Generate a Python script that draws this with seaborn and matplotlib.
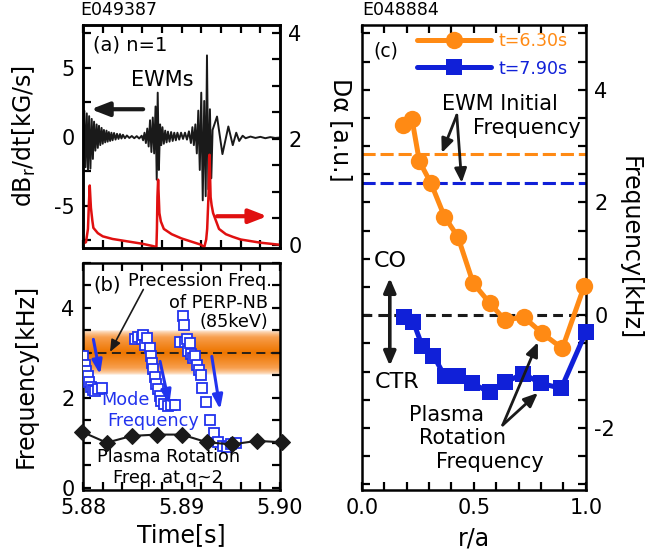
import numpy as np
import pandas as pd
import matplotlib
matplotlib.use("Agg")
import matplotlib.pyplot as plt
import seaborn as sns
from matplotlib.colors import LinearSegmentedColormap
from matplotlib.ticker import MultipleLocator, FormatStrFormatter

# ------------------------------------------------------------------ data
shot_a = "E049387"
shot_c = "E048884"
t0 = 5.88  # s, time origin of panels (a),(b); times below in ms after t0

# (a) n=1 magnetic probe signal dBr/dt [kG/s]
bdot_ms = [0.00, 0.12, 0.25, 0.38, 0.50, 0.62, 0.75, 0.88, 1.00, 1.12, 1.25, 1.38,
           1.50, 1.62, 1.75, 1.88, 2.00, 2.12, 2.25, 2.38, 2.50, 2.62, 2.75, 2.88,
           3.00, 3.15, 3.30, 3.45, 3.60, 3.75, 3.90, 4.05, 4.25, 4.45, 4.70, 4.95,
           5.20, 5.45, 5.70, 5.95, 6.10, 6.24, 6.38, 6.52, 6.66, 6.80, 6.94, 7.08,
           7.22, 7.36, 7.48, 7.58, 7.70, 7.82, 7.94, 8.06, 8.20, 8.34, 8.48, 8.62,
           8.78, 8.94, 9.10, 9.26, 9.42, 9.58, 9.76, 9.95, 10.15, 10.35, 10.55, 10.75,
           10.95, 11.10, 11.25, 11.40, 11.55, 11.70, 11.85, 12.00, 12.15, 12.30, 12.45,
           12.58, 12.72, 12.88, 13.02, 13.15, 13.60, 14.15, 14.75, 15.20, 15.55, 15.85,
           16.20, 16.50, 17.00, 17.50, 18.00, 18.50, 19.00, 19.50, 20.00]
bdot_val = [0.4, 1.9, -2.2, 1.7, -2.4, 1.5, -2.3, 1.3, -1.6, 1.1, -1.0, 0.9,
            -0.8, 0.8, -0.6, 0.65, -0.5, 0.5, -0.4, 0.45, -0.35, 0.35, -0.3, 0.3,
            -0.25, 0.28, -0.2, 0.22, -0.15, 0.2, -0.12, 0.15, -0.1, 0.1, -0.08, 0.06,
            -0.1, 0.05, -0.12, 0.08, -0.25, 0.3, -0.45, 0.6, -0.7, 1.2, -1.1, 1.4,
            -1.2, 2.2, -3.1, 3.2, -2.4, 0.9, -0.6, 0.7, -0.5, 0.45, -0.4, 0.38,
            -0.35, 0.35, -0.3, 0.3, -0.25, 0.3, -0.2, 0.3, -0.15, 0.3, -0.2, 0.4,
            -0.45, 0.7, -0.6, 0.9, -1.2, 1.9, -2.4, 3.2, -4.6, 2.6, -4.3,
            5.9, -3.8, 2.0, -3.0, 0.5, 1.47, -1.25, 0.75, -0.6, 0.3, -0.3,
            0.08, -0.1, 0.02, -0.08, 0.0, -0.1, -0.02, -0.08, -0.05]

# (a) D-alpha [a.u.] (right axis)
dalpha_ms = [0.0, 0.3, 0.5, 0.6, 0.68, 0.8, 0.95, 1.05, 1.5, 2.0, 3.0, 4.0, 5.0, 6.0,
             7.0, 7.45, 7.5, 7.55, 7.62, 7.75, 7.9, 8.2, 9.0, 10.0, 11.0, 12.0, 12.3,
             12.5, 12.6, 12.75, 12.84, 12.95, 13.05, 13.2, 13.4, 13.8, 14.5, 15.2,
             16.0, 17.0, 18.0, 19.0, 20.0]
dalpha_val = [0.02, 0.05, 0.3, 0.8, 1.12, 0.7, 0.45, 0.32, 0.22, 0.16, 0.11, 0.08, 0.05,
              0.02, -0.02, -0.04, 0.3, 0.9, 1.23, 0.6, 0.44, 0.3, 0.2, 0.12, 0.06, 0.0,
              -0.05, 0.1, 0.3, 1.0, 1.7, 0.9, 0.75, 0.6, 0.5, 0.3, 0.2, 0.15, 0.1, 0.07,
              0.04, 0.02, 0.0]

# (b) mode frequency [kHz]
mode_ms = [0.0, 0.2, 0.35, 0.5, 0.65, 0.8, 1.0, 1.2, 1.5, 1.9,
           5.3, 5.6, 5.95, 6.1, 6.3, 6.5, 6.75, 6.9, 7.05, 7.15, 7.3, 7.45, 7.65,
           7.8, 7.95, 8.25, 8.6, 8.95, 9.35,
           9.8, 10.1, 10.2, 10.35, 10.55, 10.7, 10.85, 11.0, 11.2, 11.35, 11.55,
           11.75, 11.95, 12.1, 12.5, 12.85, 13.3, 13.75, 14.2, 14.6, 15.05, 15.55]
mode_khz = [2.92, 2.72, 2.6, 2.48, 2.36, 2.25, 2.18, 2.15, 2.2, 2.22,
            3.3, 3.36, 3.3, 3.4, 3.18, 3.32, 3.1, 2.92, 2.78, 2.63, 2.46, 2.3, 2.2,
            2.05, 1.92, 1.85, 1.82, 1.83, 1.83,
            3.25, 3.82, 3.62, 3.25, 3.3, 3.05, 3.22, 2.98, 2.88, 2.93, 2.74,
            2.62, 2.5, 2.22, 1.9, 1.5, 1.22, 1.02, 0.93, 0.9, 0.98, 1.0]

# (b) plasma rotation frequency at q~2 [kHz]
rot_ms = [-0.1, 2.4, 4.94, 7.48, 10.02, 12.56, 15.1, 17.63, 20.17]
rot_khz = [1.24, 1.0, 1.15, 1.18, 1.18, 1.01, 0.96, 1.04, 1.01]

precession_khz = 3.0          # precession freq. of PERP-NB (85keV)
precession_band = (2.5, 3.5)

# (c) plasma rotation frequency profiles [kHz]
ra_630 = [0.185, 0.224, 0.257, 0.309, 0.369, 0.429, 0.497, 0.572, 0.640, 0.722, 0.805, 0.895, 0.993]
f_630 = [3.38, 3.48, 2.73, 2.34, 1.75, 1.39, 0.57, 0.21, -0.09, -0.03, -0.32, -0.59, 0.52]
ra_790 = [0.19, 0.23, 0.27, 0.32, 0.37, 0.43, 0.49, 0.57, 0.64, 0.72, 0.80, 0.89, 1.00]
f_790 = [-0.03, -0.12, -0.55, -0.72, -1.08, -1.08, -1.20, -1.37, -1.19, -1.04, -1.21, -1.30, -0.30]
ewm_init_630 = 2.86
ewm_init_790 = 2.34
labels_c = ["t=6.30s", "t=7.90s"]

# ------------------------------------------------------------------ style
sns.set_theme(style="ticks")
plt.rcParams["font.family"] = ["DejaVu Sans"]
plt.rcParams.update({
    "axes.linewidth": 1.8,
    "axes.edgecolor": "black",
    "axes.labelcolor": "black",
    "text.color": "black",
    "xtick.color": "black", "ytick.color": "black",
    "axes.unicode_minus": False,
    "xtick.direction": "in", "ytick.direction": "in",
    "xtick.major.size": 6, "ytick.major.size": 6,
    "xtick.minor.size": 6, "ytick.minor.size": 6,
    "xtick.major.width": 1.6, "ytick.major.width": 1.6,
    "xtick.minor.width": 1.6, "ytick.minor.width": 1.6,
    "xtick.major.pad": 6, "ytick.major.pad": 6,
    "xtick.labelsize": 15, "ytick.labelsize": 15,
    "axes.labelsize": 17,
})

ORANGE = "#FF8A14"
BLUE = "#1020D8"
MBLUE = "#2233EE"
RED = "#E01010"

fig = plt.figure(figsize=(6.59, 5.56), dpi=100)
ax_a = fig.add_axes([0.126, 0.554, 0.299, 0.401])
ax_b = fig.add_axes([0.126, 0.119, 0.299, 0.408])
ax_c = fig.add_axes([0.549, 0.119, 0.340, 0.836])

def tsec(ms):
    return [t0 + m / 1000.0 for m in ms]

# ------------------------------------------------------------------ (a)
df_b = pd.DataFrame({"t": tsec(bdot_ms), "v": bdot_val})
sns.lineplot(data=df_b, x="t", y="v", ax=ax_a, color="k", lw=1.4,
             estimator=None, sort=False)
ax_a2 = ax_a.twinx()
df_d = pd.DataFrame({"t": tsec(dalpha_ms), "v": dalpha_val})
sns.lineplot(data=df_d, x="t", y="v", ax=ax_a2, color=RED, lw=1.8,
             estimator=None, sort=False)

ax_a.set_xlim(5.88, 5.90)
ax_a.set_ylim(-8.05, 8.1)
ax_a2.set_ylim(-0.06, 4.15)
ax_a.xaxis.set_major_locator(MultipleLocator(0.01))
ax_a.xaxis.set_minor_locator(MultipleLocator(0.002))
ax_a.yaxis.set_major_locator(MultipleLocator(5))
ax_a.yaxis.set_minor_locator(MultipleLocator(2.5))
ax_a2.yaxis.set_major_locator(MultipleLocator(2))
ax_a2.yaxis.set_minor_locator(MultipleLocator(0.5))
ax_a.tick_params(axis="x", which="both", top=True, bottom=True, labelbottom=False)
ax_a.tick_params(axis="y", which="both", left=True, right=False)
ax_a2.tick_params(axis="y", which="both", right=True)
ax_a.set_xlabel("")
ax_a2.set_ylabel("")
ax_a.set_ylabel("dB$_\\mathregular{r}$/dt[kG/s]")
ax_a.yaxis.set_label_coords(-0.23, 0.5)
for sp in ax_a2.spines.values():
    sp.set_linewidth(1.8)

ax_a.text(5.8810, 6.67, "(a) n=1", fontsize=14, ha="left", va="center")
ax_a.text(5.8880, 4.13, "EWMs", fontsize=15, ha="center", va="center")
ax_a.annotate("", xy=(5.8808, 2.0), xytext=(5.8861, 2.0),
              arrowprops=dict(arrowstyle="-|>,head_length=0.9,head_width=0.35",
                              lw=3, color="k", shrinkA=0, shrinkB=0))
ax_a.annotate("", xy=(5.8987, -5.75), xytext=(5.8936, -5.75),
              arrowprops=dict(arrowstyle="-|>,head_length=0.9,head_width=0.35",
                              lw=3, color=RED, shrinkA=0, shrinkB=0))

# ------------------------------------------------------------------ (b)
yy = np.linspace(precession_band[0], precession_band[1], 200)[:, None]
prof = np.clip(1 - np.abs(yy - precession_khz) / (0.5 * (precession_band[1] - precession_band[0])), 0, 1) ** 0.6
band_cmap = LinearSegmentedColormap.from_list("band", ["#FFFFFF", "#F8A050", "#EE7600"])
ax_b.imshow(prof, extent=[5.88, 5.90, precession_band[0], precession_band[1]],
            aspect="auto", cmap=band_cmap, origin="lower", zorder=0, vmin=0, vmax=1)
ax_b.axhline(precession_khz, color="k", lw=1.3, dashes=(5, 3), zorder=1)

df_m = pd.DataFrame({"t": tsec(mode_ms), "f": mode_khz})
sns.lineplot(data=df_m, x="t", y="f", ax=ax_b, linestyle="", marker="s",
             markersize=7.5, markerfacecolor="white", markeredgecolor=MBLUE,
             markeredgewidth=1.3, estimator=None, sort=False, zorder=3)
df_r = pd.DataFrame({"t": tsec(rot_ms), "f": rot_khz})
sns.lineplot(data=df_r, x="t", y="f", ax=ax_b, color="k", lw=1.5, marker="D",
             markersize=8, markeredgecolor="k", estimator=None, sort=False,
             clip_on=False, zorder=4)

ax_b.set_xlim(5.88, 5.90)
ax_b.set_ylim(-0.05, 5.0)
ax_b.xaxis.set_major_locator(MultipleLocator(0.01))
ax_b.xaxis.set_minor_locator(MultipleLocator(0.002))
ax_b.xaxis.set_major_formatter(FormatStrFormatter("%.2f"))
ax_b.yaxis.set_major_locator(MultipleLocator(2))
ax_b.yaxis.set_minor_locator(MultipleLocator(0.5))
ax_b.tick_params(which="both", top=True, right=True)
ax_b.set_xlabel("Time[s]")
ax_b.set_ylabel("Frequency[kHz]")
ax_b.yaxis.set_label_coords(-0.23, 0.5)
ax_b.xaxis.set_label_coords(0.5, -0.145)

ax_b.text(5.8810, 4.52, "(b)", fontsize=14, ha="left", va="center")
ax_b.text(5.8992, 4.59, "Precession Freq.", fontsize=12.7, ha="right", va="center")
ax_b.text(5.8988, 4.12, "of PERP-NB", fontsize=12.7, ha="right", va="center")
ax_b.text(5.8988, 3.68, "(85keV)", fontsize=12.7, ha="right", va="center")
ax_b.annotate("", xy=(5.88274, 3.02), xytext=(5.88612, 4.41),
              arrowprops=dict(arrowstyle="-|>,head_length=0.6,head_width=0.25",
                              lw=1.2, color="k", shrinkA=0, shrinkB=0))
ax_b.text(5.88426, 1.96, "Mode", fontsize=12.7, color=MBLUE, ha="center", va="center")
ax_b.text(5.88714, 1.48, "Frequency", fontsize=12.7, color=MBLUE, ha="center", va="center")
ax_b.text(5.88866, 0.67, "Plasma Rotation", fontsize=12.7, ha="center", va="center")
ax_b.text(5.88866, 0.22, "Freq. at q~2", fontsize=12.7, ha="center", va="center")
for (xt, yt), (xh, yh) in [((5.88105, 3.3), (5.88173, 2.52)),
                           ((5.88782, 2.81), (5.88876, 1.85)),
                           ((5.89307, 2.92), (5.89391, 1.74))]:
    ax_b.annotate("", xy=(xh, yh), xytext=(xt, yt),
                  arrowprops=dict(arrowstyle="-|>,head_length=0.7,head_width=0.25",
                                  lw=2.2, color=MBLUE, shrinkA=0, shrinkB=0), zorder=5)

# ------------------------------------------------------------------ (c)
ax_c.axhline(ewm_init_630, color=ORANGE, lw=2.2, dashes=(4.3, 1.6), zorder=1)
ax_c.axhline(ewm_init_790, color=BLUE, lw=2.2, dashes=(4.3, 1.6), zorder=1)
ax_c.axhline(0, color="k", lw=2.2, dashes=(3.2, 2.0), zorder=1)

df_c1 = pd.DataFrame({"r": ra_630, "f": f_630})
df_c2 = pd.DataFrame({"r": ra_790, "f": f_790})
sns.lineplot(data=df_c1, x="r", y="f", ax=ax_c, color=ORANGE, lw=3.6, marker="o",
             markersize=12.5, markeredgewidth=0, estimator=None, sort=False,
             clip_on=False, label=labels_c[0], zorder=3)
sns.lineplot(data=df_c2, x="r", y="f", ax=ax_c, color=BLUE, lw=3.6, marker="s",
             markersize=12, markeredgewidth=0, estimator=None, sort=False,
             clip_on=False, label=labels_c[1], zorder=3)

ax_c.set_xlim(0.0, 1.0)
ax_c.set_ylim(-3.1, 5.15)
ax_c.xaxis.set_major_locator(MultipleLocator(0.5))
ax_c.xaxis.set_minor_locator(MultipleLocator(0.1))
ax_c.xaxis.set_major_formatter(FormatStrFormatter("%.1f"))
ax_c.yaxis.set_major_locator(MultipleLocator(2))
ax_c.yaxis.set_minor_locator(MultipleLocator(0.5))
ax_c.tick_params(which="both", top=True, right=True, left=True,
                 labelleft=False, labelright=True)
ax_c.set_xlabel("r/a")
ax_c.xaxis.set_label_coords(0.5, -0.078)
ax_c.yaxis.set_label_position("right")
ax_c.set_ylabel("Frequency[kHz]", rotation=-90, va="bottom")
ax_c.yaxis.set_label_coords(1.14, 0.52)

leg = ax_c.legend(loc="upper left", bbox_to_anchor=(0.245, 0.985), frameon=False,
                  fontsize=12.5, handlelength=4.3, handletextpad=0.4,
                  labelspacing=0.55, borderpad=0, borderaxespad=0,
                  labelcolor="linecolor")

ax_c.text(0.05, 4.69, "(c)", fontsize=13.5, ha="left", va="center")
ax_c.text(0.616, 3.75, "EWM Initial", fontsize=15, ha="center", va="center")
ax_c.text(0.737, 3.33, "Frequency", fontsize=15, ha="center", va="center")
for head in [(0.357, 2.88), (0.446, 2.35)]:
    ax_c.annotate("", xy=head, xytext=(0.424, 3.55),
                  arrowprops=dict(arrowstyle="-|>,head_length=0.7,head_width=0.3",
                                  lw=2, color="k", shrinkA=0, shrinkB=0))
ax_c.text(0.125, 0.97, "CO", fontsize=16, ha="center", va="center")
ax_c.text(0.156, -1.19, "CTR", fontsize=16, ha="center", va="center")
ax_c.annotate("", xy=(0.125, 0.66), xytext=(0.125, -0.9),
              arrowprops=dict(arrowstyle="<|-|>,head_length=0.7,head_width=0.3",
                              lw=2.6, color="k", shrinkA=0, shrinkB=0))
ax_c.text(0.379, -1.77, "Plasma", fontsize=15, ha="center", va="center")
ax_c.text(0.451, -2.18, "Rotation", fontsize=15, ha="center", va="center")
ax_c.text(0.571, -2.60, "Frequency", fontsize=15, ha="center", va="center")
for head in [(0.786, -0.48), (0.786, -1.38)]:
    ax_c.annotate("", xy=head, xytext=(0.629, -1.95),
                  arrowprops=dict(arrowstyle="-|>,head_length=0.7,head_width=0.3",
                                  lw=2, color="k", shrinkA=0, shrinkB=0))

# ------------------------------------------------------------------ figure texts
fig.text(80 / 659, 1 - 10 / 556, shot_a, fontsize=12.5, ha="left", va="center")
fig.text(362 / 659, 1 - 10 / 556, shot_c, fontsize=12.5, ha="left", va="center")
fig.text(341 / 659, 1 - 130 / 556, "Dα [a.u.]", fontsize=17, rotation=-90,
         ha="center", va="center")

fig.savefig("out.png", dpi=100)
